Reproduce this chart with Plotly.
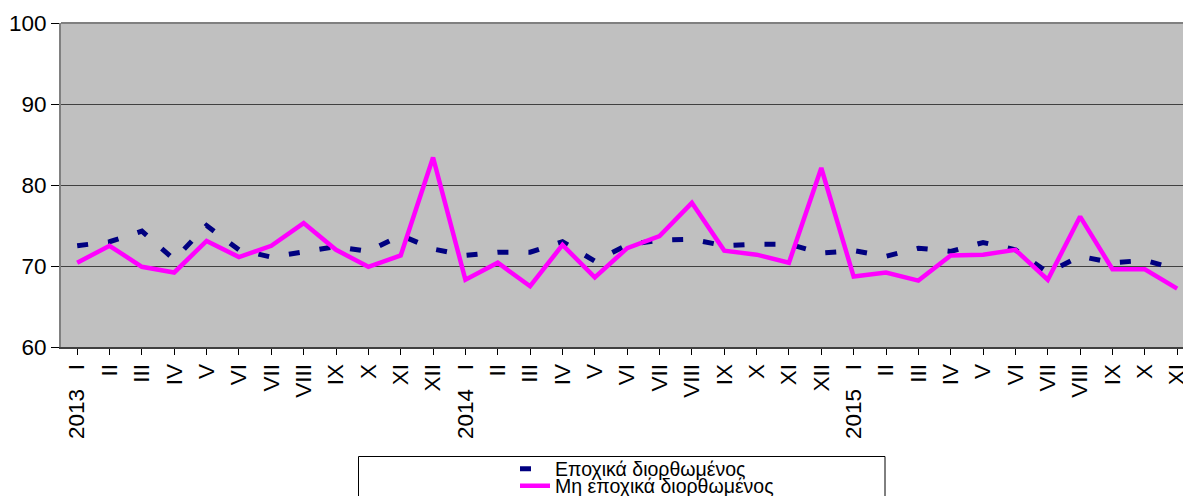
import plotly.graph_objects as go

months = ["I", "II", "III", "IV", "V", "VI", "VII", "VIII", "IX", "X", "XI", "XII"]
SP = "\u00a0\u00a0\u00a0"
categories = ([f"2013{SP}{m}" if m == "I" else m for m in months]
              + [f"2014{SP}{m}" if m == "I" else m for m in months]
              + [f"2015{SP}{m}" if m == "I" else m for m in months[:11]])
cat_ids = list(range(len(categories)))

seasonally_adjusted = [72.5, 73.0, 74.3, 70.8, 75.0, 72.0, 71.1, 71.8, 72.4, 71.8, 73.8, 72.1,
                       71.3, 71.7, 71.7, 73.0, 70.6, 72.6, 73.2, 73.3, 72.5, 72.7, 72.7, 71.6,
                       71.9, 71.2, 72.2, 71.8, 72.9, 72.0, 69.2, 71.2, 70.4, 70.7, 69.6]
not_adjusted = [70.4, 72.5, 69.9, 69.2, 73.1, 71.1, 72.5, 75.3, 72.0, 69.9, 71.3, 83.4,
                68.3, 70.4, 67.5, 72.6, 68.6, 72.2, 73.7, 77.8, 71.9, 71.4, 70.4, 82.1,
                68.7, 69.2, 68.2, 71.3, 71.4, 72.0, 68.3, 76.1, 69.6, 69.6, 67.2]

name_sa = "Εποχικά διορθωμένος"
name_nsa = "Μη εποχικά διορθωμένος"
y_ticks = [60, 70, 80, 90, 100]

FONT = "Liberation Sans, Arial, sans-serif"
TICK_SIZE = 22.5

fig = go.Figure()
fig.add_trace(go.Scatter(
    x=cat_ids, y=seasonally_adjusted, mode="lines", name=name_sa,
    line=dict(color="#000080", width=5, dash="11px,20px"), legend="legend"))
fig.add_trace(go.Scatter(
    x=cat_ids, y=not_adjusted, mode="lines", name=name_nsa,
    line=dict(color="#FF00FF", width=4.5), legend="legend2"))

W, H = 1183, 496
L, R, T, B = 61, 0, 23, 149
pw, ph = W - L - R, H - T - B

def px_x(x):
    return (x - L) / pw

def px_y(y):
    return (H - B - y) / ph

fig.add_shape(type="rect", xref="paper", yref="paper",
              x0=px_x(358.5), x1=px_x(885), y0=px_y(456.5), y1=px_y(520),
              line=dict(color="black", width=1), fillcolor="white", layer="below")
fig.add_shape(type="line", xref="paper", yref="paper", x0=0, x1=1, y0=1, y1=1,
              line=dict(color="#808080", width=2))

fig.update_layout(
    width=W, height=H,
    margin=dict(l=L, r=R, t=T, b=B, pad=0, autoexpand=False),
    paper_bgcolor="white", plot_bgcolor="#C0C0C0",
    font=dict(family=FONT, size=20, color="black"),
    xaxis=dict(
        tickmode="array", tickvals=cat_ids, ticktext=categories,
        range=[-0.5, 34.18], tickangle=-90, showgrid=False, automargin=False,
        ticklabeloverflow="allow",
        ticks="outside", ticklen=6, tickcolor="black", tickwidth=1,
        showline=True, linecolor="#404040", linewidth=2,
        tickfont=dict(family=FONT, size=TICK_SIZE), zeroline=False),
    yaxis=dict(
        range=[60, 100], tickvals=y_ticks, showgrid=True, gridcolor="#404040",
        gridwidth=1, ticks="outside", ticklen=8, tickcolor="black", automargin=False,
        ticklabeloverflow="allow",
        showline=True, linecolor="#808080", linewidth=2, zeroline=False,
        tickfont=dict(family=FONT, size=TICK_SIZE)),
    legend=dict(x=px_x(515), y=px_y(469), xanchor="left", yanchor="middle",
                bgcolor="rgba(0,0,0,0)", borderwidth=0,
                font=dict(family=FONT, size=19.5)),
    legend2=dict(x=px_x(515), y=px_y(486), xanchor="left", yanchor="middle",
                 bgcolor="rgba(0,0,0,0)", borderwidth=0,
                 font=dict(family=FONT, size=19.5)),
    showlegend=True,
)

fig.write_html(
    "out.html",
    config={"displayModeBar": False},
    post_script="document.body.style.margin='0';document.body.style.overflow='hidden';",
)
